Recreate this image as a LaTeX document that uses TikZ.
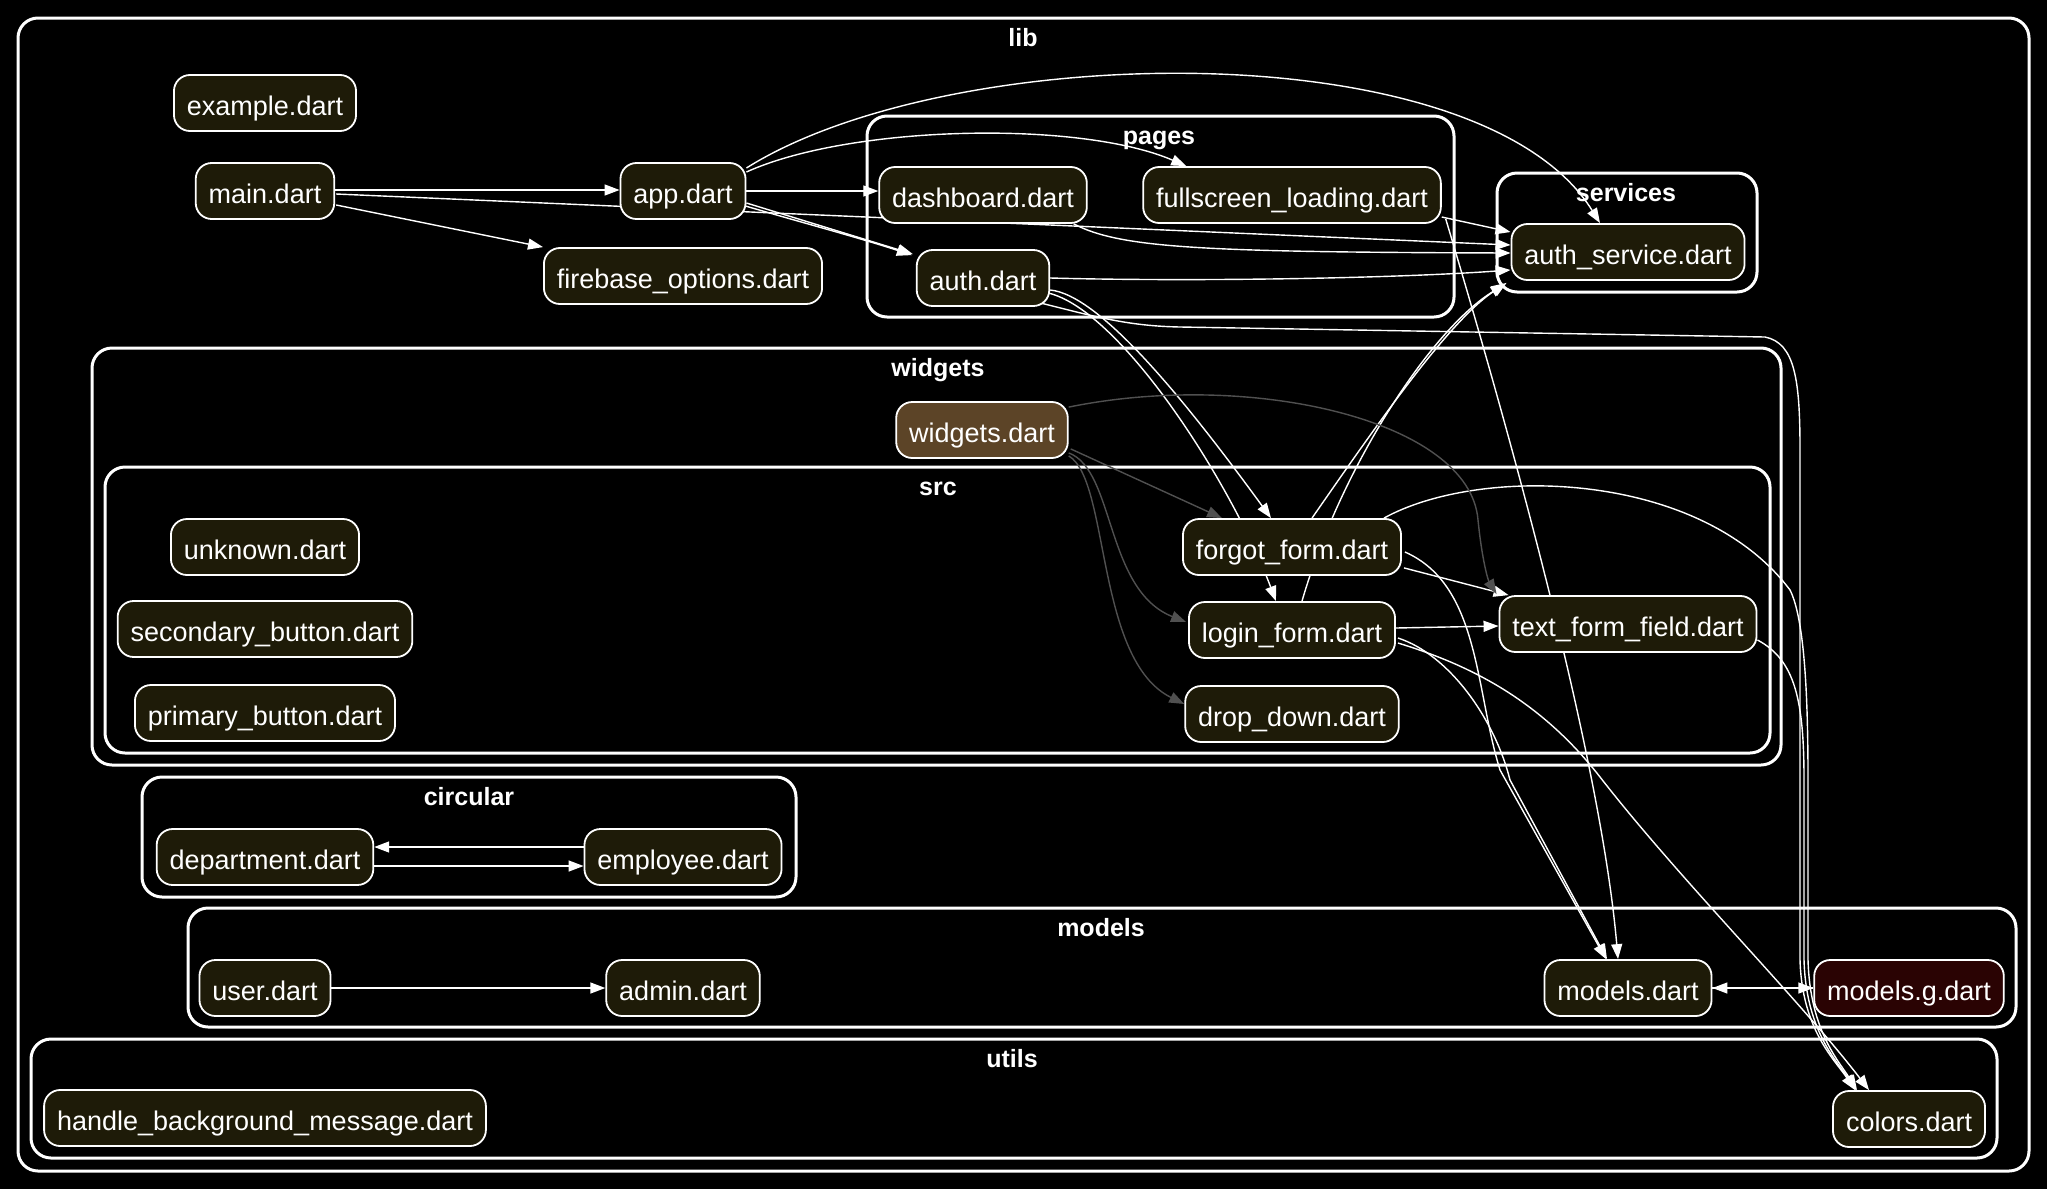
\documentclass[tikz,border=0pt]{standalone}
\usepackage{fontspec}
\setmainfont{Liberation Sans}
\usepackage{xcolor}
\usepackage{tikz}
\usetikzlibrary{arrows.meta,calc}

\definecolor{filebg}{HTML}{1E1B08}
\definecolor{barrelbg}{HTML}{5C4427}
\definecolor{genbg}{HTML}{2A0303}
\definecolor{linkgray}{HTML}{505050}

\pgfdeclarelayer{clusters}
\pgfdeclarelayer{links}
\pgfsetlayers{clusters,links,main}

\begin{document}
\begin{tikzpicture}[x=1pt, y=-1pt,
    file/.style={draw=white, line width=1.8pt, fill=filebg, text=white, rounded corners=16pt,
        font=\fontsize{27}{32}\selectfont, inner xsep=13pt, inner ysep=0pt,
        minimum height=56pt, text height=25.5pt, text depth=1.5pt},
    cluster/.style={draw=white, line width=3pt, rounded corners=20pt},
    clusterlabel/.style={text=white, font=\bfseries\fontsize{25}{30}\selectfont, anchor=base, inner sep=0pt},
    link/.style={draw=white, line width=1.4pt, -{Triangle[length=15pt,width=11pt]}},
    greylink/.style={link, draw=linkgray}]
    \useasboundingbox (0,0) rectangle (2047,1189);

    % Folders
    \begin{pgfonlayer}{clusters}
    \fill[black] (0,0) rectangle (2047,1189);
    \draw[cluster] (18,18) rectangle (2029,1171);
    \draw[cluster] (867,116) rectangle (1454,317);
    \draw[cluster] (1497,173) rectangle (1757,292);
    \draw[cluster] (92,348) rectangle (1781,765);
    \draw[cluster] (105,467) rectangle (1770,753);
    \draw[cluster] (142,777) rectangle (796,897);
    \draw[cluster] (188,908) rectangle (2016,1027);
    \draw[cluster] (31,1039) rectangle (1997,1158);
    \end{pgfonlayer}
    \node[clusterlabel] (liblabel) at (1023,46.5) {lib};
    \node[clusterlabel] (pageslabel) at (1159,144.5) {pages};
    \node[clusterlabel] (serviceslabel) at (1626,201.5) {services};
    \node[clusterlabel] (widgetslabel) at (938,376.5) {widgets};
    \node[clusterlabel] (srclabel) at (938,495.5) {src};
    \node[clusterlabel] (circularlabel) at (469,805.5) {circular};
    \node[clusterlabel] (modelslabel) at (1101,936.5) {models};
    \node[clusterlabel] (utilslabel) at (1012,1067.5) {utils};

    % Files
    \node[file] (example) at (265,103) {example.dart};
    \node[file] (main) at (265,191) {main.dart};
    \node[file] (app) at (683,191) {app.dart};
    \node[file] (firebase) at (683,276) {firebase\_options.dart};
    \node[file] (dashboard) at (983,195) {dashboard.dart};
    \node[file] (fullscreen) at (1292,195) {fullscreen\_loading.dart};
    \node[file] (auth) at (983,278) {auth.dart};
    \node[file] (authsvc) at (1628,252) {auth\_service.dart};
    \node[file, fill=barrelbg] (widgets) at (982,430) {widgets.dart};
    \node[file] (unknown) at (265,547) {unknown.dart};
    \node[file] (forgot) at (1292,547) {forgot\_form.dart};
    \node[file] (secondary) at (265,629) {secondary\_button.dart};
    \node[file] (login) at (1292,630) {login\_form.dart};
    \node[file] (textfield) at (1628,624) {text\_form\_field.dart};
    \node[file] (primary) at (265,713) {primary\_button.dart};
    \node[file] (dropdown) at (1292,714) {drop\_down.dart};
    \node[file] (department) at (265,857) {department.dart};
    \node[file] (employee) at (683,857) {employee.dart};
    \node[file] (user) at (265,988) {user.dart};
    \node[file] (admin) at (683,988) {admin.dart};
    \node[file] (models) at (1628,988) {models.dart};
    \node[file, fill=genbg] (modelsg) at (1909,988) {models.g.dart};
    \node[file] (handle) at (265,1118) {handle\_background\_message.dart};
    \node[file] (colors) at (1909,1119) {colors.dart};

    % Imports
    \begin{pgfonlayer}{links}
    \draw[link] ($(main.east)+(0,-1)$) -- ($(app.west)+(0,-1)$);
    \draw[link] ($(main.east)+(1,14)$) -- (firebase.north west);
    \draw[link] ($(main.east)+(1,3)$) -- ($(authsvc.west)+(0,-7)$);
    \draw[link] (app.east) -- ($(dashboard.west)+(0,-4)$);
    \draw[link] ($(app.east)+(0,12)$) -- ($(auth.north west)+(-3,5)$);
    \draw[link] ($(app.east)+(-1,15)$) .. controls (800,222) and (860,238) .. ($(auth.north west)+(-4,6)$);
    \draw[link] ($(app.east)+(0,-19)$) .. controls (850,125) and (1080,120) .. ($(fullscreen.north west)+(44,0)$);
    \draw[link] ($(app.east)+(0,-23)$) .. controls (950,40) and (1480,30) .. ($(authsvc.north)+(-28,0)$);
    \draw[link] ($(dashboard.south east)+(-14,0)$) .. controls (1120,248) and (1200,252) .. ($(authsvc.west)+(0,1)$);
    \draw[link] ($(fullscreen.east)+(0,22)$) -- ($(authsvc.west)+(0,-20)$);
    \draw[link] ($(fullscreen.east)+(4,24)$) .. controls (1500,400) and (1600,750) .. ($(models.north)+(-10,0)$);
    \draw[link] (auth.east) .. controls (1200,282) and (1400,278) .. ($(authsvc.west)+(0,18)$);
    \draw[link] ($(auth.east)+(0,12)$) .. controls (1100,295) and (1185,400) .. ($(forgot.north)+(-21,0)$);
    \draw[link] ($(auth.east)+(-2,15)$) .. controls (1120,310) and (1230,480) .. ($(login.north)+(-16,0)$);
    \draw[link] ($(auth.south east)+(-10,-4)$) .. controls (1100,318) and (1130,326) .. (1180,327)
        -- (1765,337) .. controls (1795,343) and (1800,380) .. (1800,450)
        -- (1800,960) .. controls (1802,1030) and (1835,1060) .. ($(colors.north)+(-54,0)$);
    \draw[link] ($(forgot.north)+(20,0)$) .. controls (1380,420) and (1450,320) .. ($(authsvc.south west)+(-4,2)$);
    \draw[link] ($(login.north)+(10,0)$) .. controls (1340,470) and (1430,330) .. ($(authsvc.south west)+(-5,3)$);
    \draw[link] ($(forgot.south east)+(2,-8)$) -- ($(textfield.north west)+(10,0)$);
    \draw[link] ($(forgot.east)+(3,5)$) .. controls (1480,585) and (1475,690) .. (1500,770)
        -- ($(models.north)+(-22,0)$);
    \draw[link] ($(forgot.north east)+(-18,0)$) .. controls (1480,465) and (1700,470) .. (1790,590)
        .. controls (1805,620) and (1808,700) .. (1808,780)
        -- (1808,960) .. controls (1810,1030) and (1838,1060) .. ($(colors.north)+(-52,0)$);
    \draw[link] ($(login.east)+(0,-2)$) -- ($(textfield.west)+(0,2)$);
    \draw[link] ($(login.east)+(2,8)$) .. controls (1450,655) and (1495,720) .. (1510,780)
        -- ($(models.north)+(-21,0)$);
    \draw[link] ($(login.east)+(2,13)$) .. controls (1470,665) and (1540,700) .. (1600,777)
        .. controls (1680,880) and (1800,1000) .. ($(colors.north)+(-40,0)$);
    \draw[link] ($(textfield.east)+(0,16)$) .. controls (1795,660) and (1804,700) .. (1804,780)
        -- (1804,960) .. controls (1806,1030) and (1836,1060) .. ($(colors.north)+(-53,0)$);
    \draw[greylink] ($(widgets.south east)+(2,-10)$) -- ($(forgot.north west)+(40,0)$);
    \draw[greylink] ($(widgets.south east)+(0,-6)$) .. controls (1115,470) and (1105,590) .. ($(login.west)+(-2,-8)$);
    \draw[greylink] ($(widgets.south east)+(0,-3)$) .. controls (1110,480) and (1095,660) .. ($(dropdown.west)+(0,-10)$);
    \draw[greylink] ($(widgets.north east)+(0,6)$) .. controls (1250,370) and (1470,420) .. (1478,520)
        .. controls (1482,560) and (1488,580) .. ($(textfield.north west)+(-2,-1)$);
    \draw[link] ($(employee.west)+(0,-10)$) -- ($(department.east)+(0,-10)$);
    \draw[link] ($(department.east)+(0,9)$) -- ($(employee.west)+(0,9)$);
    \draw[link] (user.east) -- (admin.west);
    \draw[link] (models.east) -- (modelsg.west);
    \draw[link] (modelsg.west) -- (models.east);
    \end{pgfonlayer}
\end{tikzpicture}
\end{document}
